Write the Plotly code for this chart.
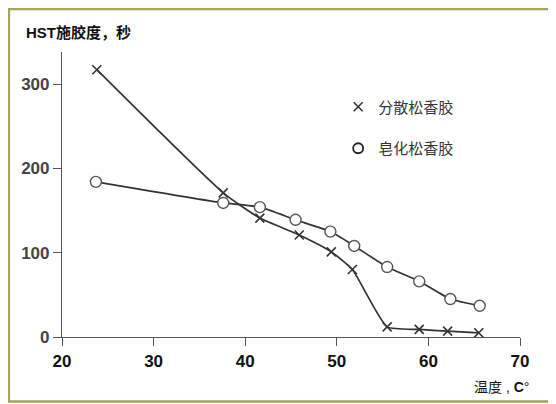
import plotly.graph_objects as go

# 分散松香胶 (dispersed rosin size)
temp_disp = [23.8, 37.6, 41.6, 45.9, 49.4, 51.7, 55.5, 59.0, 62.1, 65.5]
hst_disp = [317, 171, 141, 121, 101, 80, 12, 9, 7, 5]

# 皂化松香胶 (saponified rosin size)
temp_soap = [23.7, 37.6, 41.6, 45.5, 49.3, 51.9, 55.5, 59.0, 62.4, 65.6]
hst_soap = [184, 159, 154, 139, 125, 108, 83, 66, 45, 37]

x_ticks = [20, 30, 40, 50, 60, 70]
y_ticks = [0, 100, 200, 300]

line_color = '#333333'
font_cjk = 'Liberation Sans, Noto Sans CJK SC, sans-serif'

fig = go.Figure()

fig.add_trace(go.Scatter(
    x=temp_disp, y=hst_disp, mode='lines+markers', showlegend=False,
    line=dict(color=line_color, width=1.7, shape='spline', smoothing=0.5),
    marker=dict(symbol='x-thin', size=9, line=dict(color=line_color, width=1.6)),
))
fig.add_trace(go.Scatter(
    x=temp_soap, y=hst_soap, mode='lines+markers', showlegend=False,
    line=dict(color=line_color, width=1.7, shape='spline', smoothing=0.5),
    marker=dict(symbol='circle', size=11, color='white', line=dict(color='#555555', width=1.4)),
))

# legend entries, markers only
fig.add_trace(go.Scatter(
    x=[None], y=[None], mode='markers', name='分散松香胶', legendgroup='a',
    marker=dict(symbol='x-thin', size=9, line=dict(color=line_color, width=1.6)),
))
fig.add_trace(go.Scatter(
    x=[None], y=[None], mode='markers', name='皂化松香胶', legendgroup='b',
    marker=dict(symbol='circle', size=10, color='white', line=dict(color='#222222', width=1.8)),
))

# the page body has an 8px margin, so the figure is 8px smaller than the window
fig.update_layout(
    width=548, height=396,
    paper_bgcolor='white', plot_bgcolor='white',
    margin=dict(l=54, r=36, t=44, b=67),
    font=dict(family=font_cjk, color='#333333', size=14),
    legend=dict(x=0.603, y=0.865, xanchor='left', yanchor='top',
                bgcolor='rgba(0,0,0,0)', tracegroupgap=19,
                font=dict(size=15, color='#333333')),
    xaxis=dict(range=[20, 70], tickvals=x_ticks, showgrid=False, zeroline=False,
               showline=True, linecolor='#555555', linewidth=1.2,
               ticks='outside', ticklen=8, tickcolor='#555555', tickwidth=1.2,
               tickfont=dict(size=17, color='#111111', family='Liberation Sans', weight='bold')),
    yaxis=dict(range=[0, 338], tickvals=y_ticks, showgrid=False, zeroline=False,
               showline=True, linecolor='#555555', linewidth=1.2,
               ticks='outside', ticklen=8, tickcolor='#555555', tickwidth=1.2,
               tickfont=dict(size=17, color='#444444', family='Liberation Sans', weight='bold')),
)

fig.add_annotation(text='<b>HST施胶度，秒</b>', xref='paper', yref='paper',
                   x=-0.083, y=1.07, xanchor='left', yanchor='middle', showarrow=False,
                   font=dict(size=15, color='#111111'))
fig.add_annotation(text='温度 , <b>C</b>°', xref='paper', yref='paper',
                   x=0.895, y=-0.175, xanchor='left', yanchor='middle', showarrow=False,
                   font=dict(size=14, color='#111111'))

# olive frame round the picture
fig.add_shape(type='rect', xref='paper', yref='paper', x0=-0.116, x1=1.076, y0=-0.226, y1=1.151,
              line=dict(color='#a6a45c', width=2.5))

fig.write_html("out.html")
